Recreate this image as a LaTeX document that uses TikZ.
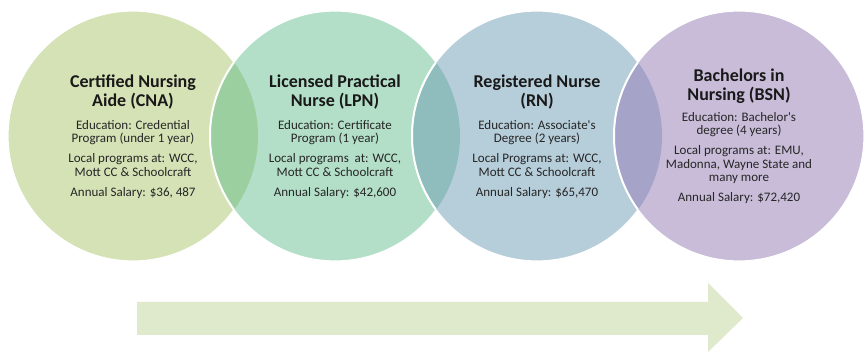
\documentclass[tikz,border=0pt]{standalone}
\usepackage{fontspec}
\setmainfont{Carlito}
\usetikzlibrary{positioning}
\definecolor{cnaFill}{HTML}{D4E2B5}
\definecolor{lpnFill}{HTML}{B3DFC8}
\definecolor{rnFill}{HTML}{B6CDDA}
\definecolor{bsnFill}{HTML}{C8BCD9}
\definecolor{lensA}{HTML}{9BCFA0}
\definecolor{lensB}{HTML}{8FBDBD}
\definecolor{lensC}{HTML}{A5A3C8}
\definecolor{arrowFill}{HTML}{DFE9CB}
\tikzset{
  stage/.style={circle, minimum size=250pt, inner sep=0pt, outer sep=0pt, draw=white, line width=1.2pt},
  ring/.style={draw=white, line width=2pt},
  heading/.style={font=\fontsize{18}{19}\selectfont\bfseries, align=center, inner sep=0pt, text=black!90},
  details/.style={font=\fontsize{13}{13.5}\selectfont, align=center, inner sep=0pt, text=black!85, anchor=north}
}
\begin{document}
\begin{tikzpicture}[x=1pt,y=-1pt]
\useasboundingbox (0,0) rectangle (865,352);
% the four stages
\node[stage, fill=cnaFill] (cna) at (133,136) {};
\node[stage, fill=lpnFill] (lpn) at (335,136) {};
\node[stage, fill=rnFill] (rn) at (537,136) {};
\node[stage, fill=bsnFill] (bsn) at (739,136) {};
% overlaps
\begin{scope}
  \clip (cna.center) circle[radius=125pt];
  \fill[lensA] (lpn.center) circle[radius=125pt];
  \draw[ring] (lpn.center) circle[radius=125pt];
\end{scope}
\begin{scope}
  \clip (lpn.center) circle[radius=125pt];
  \fill[lensB] (rn.center) circle[radius=125pt];
  \draw[ring] (rn.center) circle[radius=125pt];
\end{scope}
\begin{scope}
  \clip (rn.center) circle[radius=125pt];
  \fill[lensC] (bsn.center) circle[radius=125pt];
  \draw[ring] (bsn.center) circle[radius=125pt];
\end{scope}
% texts
\node[heading] (cnaT) at ([yshift=44pt]cna.center) {Certified Nursing\\Aide (CNA)};
\node[details] (cnaB) at ([yshift=16pt]cna.center) {Education: Credential\\Program (under 1 year)\\[6.5pt]Local programs at: WCC,\\Mott CC \& Schoolcraft\\[6.5pt]Annual Salary: \$36, 487};
\node[heading] (lpnT) at ([yshift=44pt]lpn.center) {Licensed Practical\\Nurse (LPN)};
\node[details] (lpnB) at ([yshift=16pt]lpn.center) {Education: Certificate\\Program (1 year)\\[6.5pt]Local programs~ at: WCC,\\Mott CC \& Schoolcraft\\[6.5pt]Annual Salary: \$42,600};
\node[heading] (rnT) at ([yshift=44pt]rn.center) {Registered Nurse\\(RN)};
\node[details] (rnB) at ([yshift=16pt]rn.center) {Education: Associate\textquotesingle s\\Degree (2 years)\\[6.5pt]Local Programs at: WCC,\\Mott CC \& Schoolcraft\\[6.5pt]Annual Salary: \$65,470};
\node[heading] (bsnT) at ([yshift=50pt]bsn.center) {Bachelors in\\Nursing (BSN)};
\node[details] (bsnB) at ([yshift=24pt]bsn.center) {Education: Bachelor\textquotesingle s\\degree (4 years)\\[6.5pt]Local programs at: EMU,\\Madonna, Wayne State and\\many more\\[6.5pt]Annual Salary: \$72,420};
% progress arrow
\fill[arrowFill] (137,302) -- (708,302) -- (708,283) -- (743,318) -- (708,352) -- (708,335) -- (137,335) -- cycle;
\end{tikzpicture}
\end{document}
